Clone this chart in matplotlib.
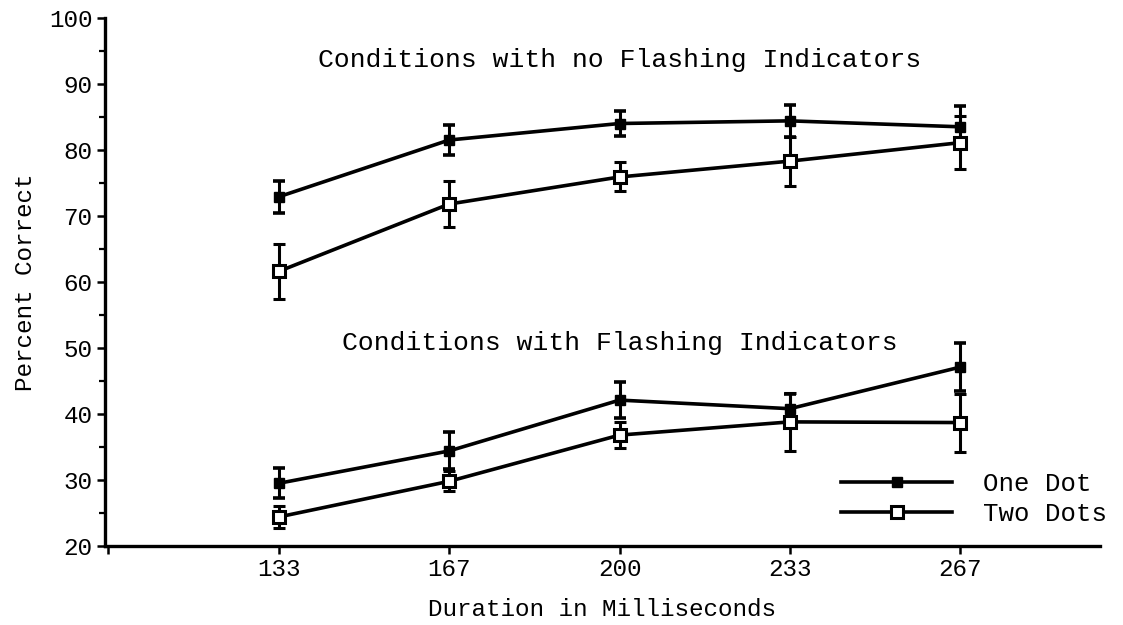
"""
Percent correct vs duration, with and without flashing indicators.
"""

import matplotlib
matplotlib.use("Agg")
import matplotlib.pyplot as plt
from matplotlib.lines import Line2D
from matplotlib.ticker import MultipleLocator

plt.rcParams['font.family'] = ['Liberation Mono', 'DejaVu Sans Mono']

# ── data ─────────────────────────────────────────────────────────────────────
durations = ['133', '167', '200', '233', '267']
x_pos = [1, 2, 3, 4, 5]

no_flash_one = [72.9, 81.5, 84.0, 84.4, 83.5]
no_flash_one_err = [2.4, 2.2, 1.9, 2.4, 3.2]
no_flash_two = [61.6, 71.8, 75.9, 78.3, 81.1]
no_flash_two_err = [4.2, 3.5, 2.2, 3.7, 4.0]

flash_one = [29.5, 34.4, 42.1, 40.8, 47.1]
flash_one_err = [2.3, 2.8, 2.7, 2.3, 3.6]
flash_two = [24.4, 29.8, 36.8, 38.8, 38.7]
flash_two_err = [1.7, 1.5, 2.0, 4.4, 4.4]

# ── figure ───────────────────────────────────────────────────────────────────
fig = plt.figure(figsize=(11.23, 6.25), dpi=100)
ax = fig.add_axes([0.0935, 0.1264, 0.886, 0.845])

lw = 2.6
filled = dict(color='black', marker='s', markersize=7, markerfacecolor='black',
              markeredgecolor='black', linewidth=lw, elinewidth=2.2, capsize=4,
              capthick=2.6)
hollow = dict(color='black', marker='s', markersize=8, markerfacecolor='white',
              markeredgecolor='black', markeredgewidth=2.2, linewidth=lw,
              elinewidth=2.2, capsize=4, capthick=2.6)

ax.errorbar(x_pos, no_flash_one, yerr=no_flash_one_err, zorder=3, **filled)
ax.errorbar(x_pos, no_flash_two, yerr=no_flash_two_err, zorder=4, **hollow)
ax.errorbar(x_pos, flash_one, yerr=flash_one_err, zorder=3, **filled)
ax.errorbar(x_pos, flash_two, yerr=flash_two_err, zorder=4, **hollow)

ax.text(3.0, 93.6, 'Conditions with no Flashing Indicators', ha='center',
        va='center', fontsize=19)
ax.text(3.0, 50.8, 'Conditions with Flashing Indicators', ha='center',
        va='center', fontsize=19)

# ── axes ─────────────────────────────────────────────────────────────────────
ax.set_xlim(-0.02, 5.82)
ax.set_ylim(20, 100)
ax.set_xticks([0] + x_pos)
ax.set_xticklabels([''] + durations)
ax.yaxis.set_major_locator(MultipleLocator(10))
ax.yaxis.set_minor_locator(MultipleLocator(5))

for side in ('top', 'right'):
    ax.spines[side].set_visible(False)
for side in ('left', 'bottom'):
    ax.spines[side].set_linewidth(2.4)

ax.tick_params(axis='both', which='major', direction='out', length=6,
               width=1.8, labelsize=17.5, pad=3)
ax.tick_params(axis='y', which='minor', direction='out', length=4, width=1.6)

ax.set_xlabel('Duration in Milliseconds', fontsize=17.5, labelpad=12)
ax.set_ylabel('Percent Correct', fontsize=17.5, labelpad=9)

# ── legend ───────────────────────────────────────────────────────────────────
handles = [
    Line2D([], [], color='black', linewidth=lw, marker='s', markersize=7,
           markerfacecolor='black'),
    Line2D([], [], color='black', linewidth=lw, marker='s', markersize=8,
           markerfacecolor='white', markeredgewidth=2.2),
]
ax.legend(handles, ['One Dot', 'Two Dots'], loc='lower right',
          bbox_to_anchor=(1.03, -0.006), frameon=False, fontsize=18.5,
          handlelength=4.3, handletextpad=1.2, labelspacing=0.25,
          numpoints=1)

fig.savefig('out.png', dpi=100)
